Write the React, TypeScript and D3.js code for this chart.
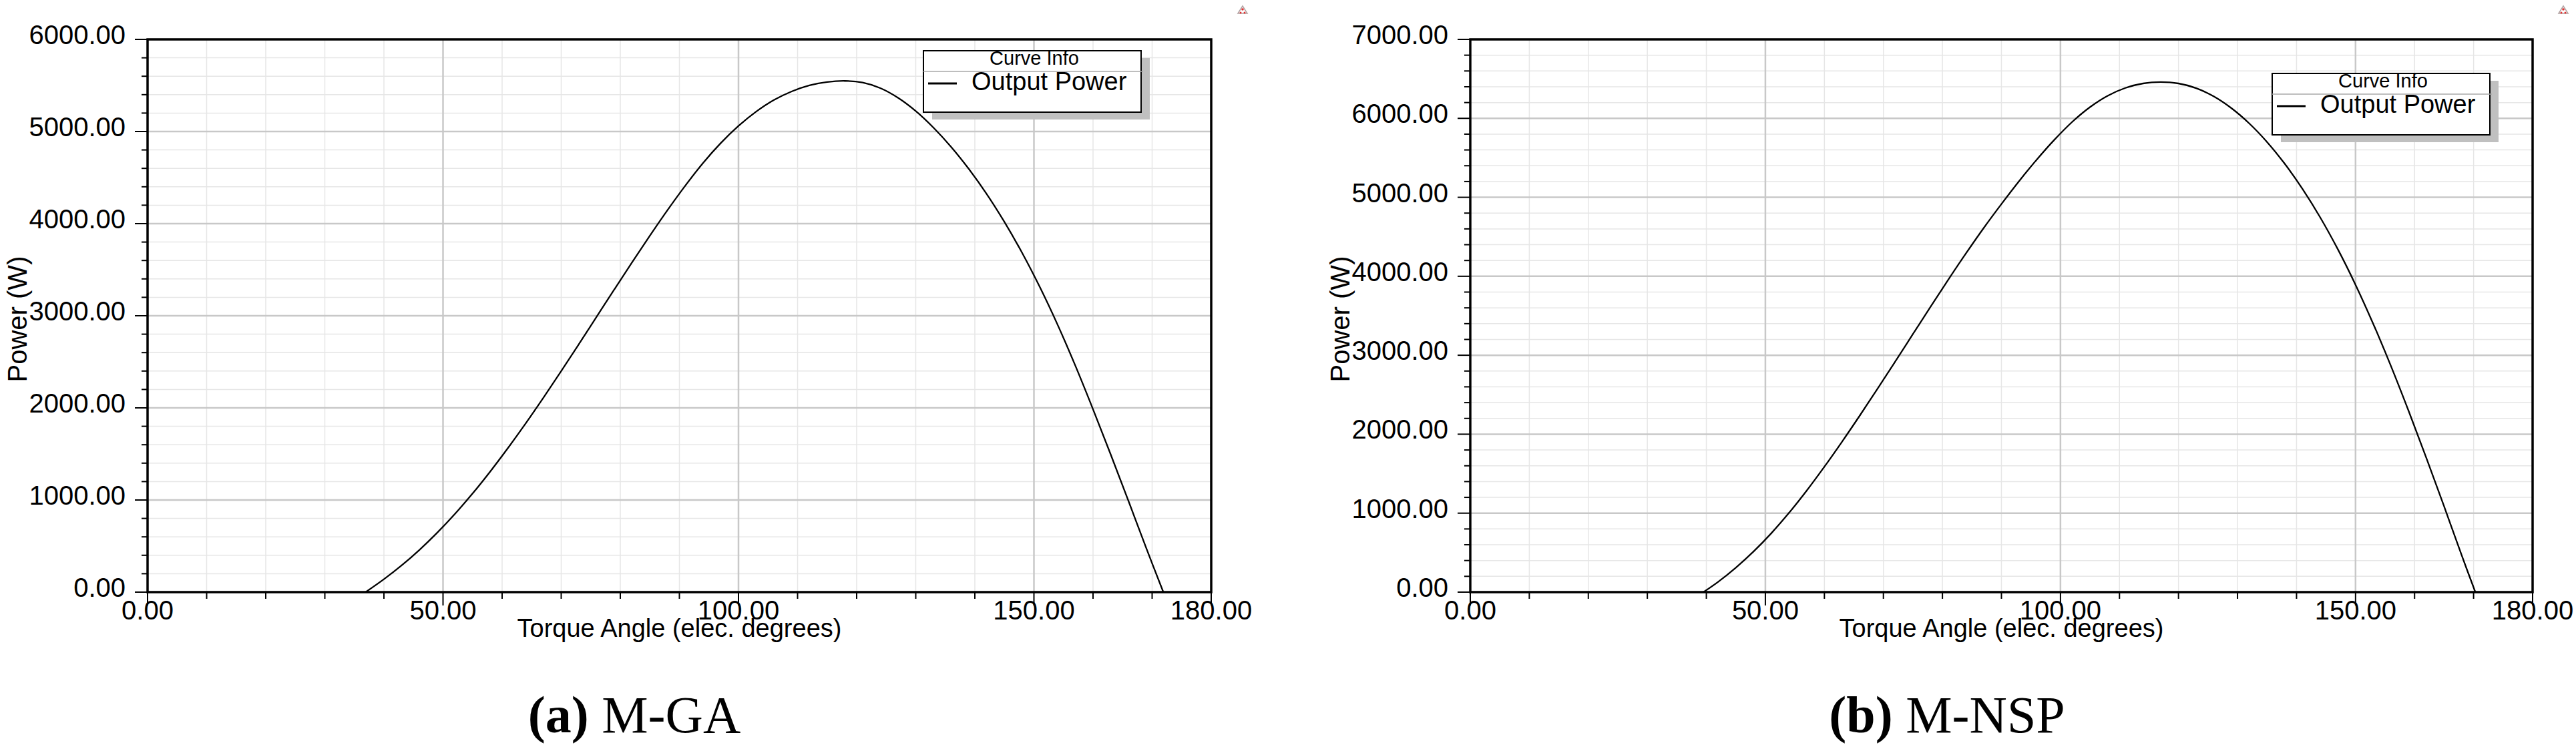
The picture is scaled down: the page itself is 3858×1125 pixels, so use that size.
import React from "react";
import * as d3 from "d3";

// values
const angleGA = [36.9, 40, 43, 46, 49, 52, 55, 58, 61, 64, 67, 70, 73, 76, 79, 82, 85, 88, 91, 94, 97, 100, 103, 106, 109, 112, 115, 118, 121, 124, 127, 130, 133, 136, 139, 142, 145, 148, 151, 154, 157, 160, 163, 166, 169, 171.9];
const powerGA = [0, 140, 290, 458, 644, 848, 1070, 1310, 1565, 1832, 2111, 2399, 2693, 2990, 3287, 3581, 3869, 4148, 4412, 4658, 4874, 5060, 5216, 5342, 5435, 5501, 5537, 5549, 5531, 5471, 5366, 5222, 5042, 4832, 4592, 4322, 4019, 3683, 3311, 2903, 2459, 1985, 1493, 989, 479, 0];

const angleNSP = [39.5, 42, 45, 48, 51, 54, 57, 60, 63, 66, 69, 72, 75, 78, 81, 84, 87, 90, 93, 96, 99, 102, 105, 108, 111, 114, 117, 120, 123, 126, 129, 132, 135, 138, 141, 144, 147, 150, 153, 156, 159, 162, 165, 168, 170.3];
const powerNSP = [0, 130, 310, 514, 745, 1003, 1285, 1588, 1906, 2236, 2575, 2920, 3268, 3616, 3958, 4291, 4612, 4915, 5206, 5479, 5731, 5956, 6142, 6286, 6385, 6442, 6460, 6442, 6382, 6277, 6127, 5935, 5701, 5425, 5107, 4747, 4342, 3892, 3397, 2863, 2293, 1699, 1087, 463, 0];

const xMajorTicks = [0, 50, 100, 150, 180];
const xMinorTicks = [10, 20, 30, 40, 60, 70, 80, 90, 110, 120, 130, 140, 160, 170];
const yMaxGA = 6000;
const yMaxNSP = 7000;

const SANS = "'Liberation Sans', Arial, sans-serif";
const SERIF = "'Liberation Serif', 'Times New Roman', serif";
const fmt = d3.format(".2f");

type PanelProps = {
  x0: number;
  x1: number;
  y0: number;
  y1: number;
  xs: number[];
  ys: number[];
  yMax: number;
  legendX: number;
  legendY: number;
  iconX: number;
  captionX: number;
  tag: string;
  name: string;
};

const Legend = ({ x, y }: { x: number; y: number }) => {
  const w = 326;
  const h = 92;
  return (
    <g transform={`translate(${x},${y})`}>
      <rect x={13} y={11} width={w} height={h} fill="#c0c0c0" />
      <rect x={0} y={0} width={w} height={h} fill="#fff" stroke="#000" strokeWidth={2} />
      <line x1={0} x2={w + 3} y1={31} y2={31} stroke="#a8a8a8" strokeWidth={1.5} />
      <text x={166} y={21} textAnchor="middle" fontFamily={SANS} fontSize={29}>
        Curve Info
      </text>
      <line x1={7} x2={50} y1={49} y2={49} stroke="#000" strokeWidth={3} />
      <text x={72} y={59} fontFamily={SANS} fontSize={38}>
        Output Power
      </text>
    </g>
  );
};

const Panel = (p: PanelProps) => {
  const x = d3.scaleLinear().domain([0, 180]).range([p.x0, p.x1]);
  const y = d3.scaleLinear().domain([0, p.yMax]).range([p.y1, p.y0]);
  const yMajor = d3.range(0, p.yMax + 1, 1000);
  const yMinor = d3.range(0, p.yMax + 1, 200).filter((v) => v % 1000 !== 0);
  const pts = p.xs.map((a, i) => [a, p.ys[i]] as [number, number]);
  const line = d3
    .line<[number, number]>()
    .x((d) => x(d[0]))
    .y((d) => y(d[1]))
    .curve(d3.curveCatmullRom.alpha(0.5));

  const midY = (p.y0 + p.y1) / 2;

  return (
    <g>
      {/* minor grid */}
      {xMinorTicks.map((t) => (
        <line key={"xm" + t} x1={x(t)} x2={x(t)} y1={p.y0} y2={p.y1} stroke="#e6e6e6" strokeWidth={1.5} />
      ))}
      {yMinor.map((t) => (
        <line key={"ym" + t} x1={p.x0} x2={p.x1} y1={y(t)} y2={y(t)} stroke="#e6e6e6" strokeWidth={1.5} />
      ))}
      {/* major grid */}
      {[50, 100, 150].map((t) => (
        <line key={"xM" + t} x1={x(t)} x2={x(t)} y1={p.y0} y2={p.y1} stroke="#c8c8c8" strokeWidth={2.5} />
      ))}
      {yMajor.map((t) => (
        <line key={"yM" + t} x1={p.x0} x2={p.x1} y1={y(t)} y2={y(t)} stroke="#c8c8c8" strokeWidth={2.5} />
      ))}

      <path d={line(pts) || ""} fill="none" stroke="#000" strokeWidth={2.3} />

      {/* frame */}
      <rect x={p.x0} y={p.y0} width={p.x1 - p.x0} height={p.y1 - p.y0} fill="none" stroke="#000" strokeWidth={3.5} />

      {/* y ticks */}
      {yMajor.map((t) => (
        <g key={"yt" + t}>
          <line x1={p.x0 - 19} x2={p.x0} y1={y(t)} y2={y(t)} stroke="#000" strokeWidth={2} />
          <text x={p.x0 - 33} y={y(t) + 7} textAnchor="end" fontFamily={SANS} fontSize={40}>
            {fmt(t)}
          </text>
        </g>
      ))}
      {yMinor.map((t) => (
        <line key={"ytm" + t} x1={p.x0 - 9} x2={p.x0} y1={y(t)} y2={y(t)} stroke="#000" strokeWidth={2} />
      ))}

      {/* x ticks */}
      {xMajorTicks.map((t) => (
        <g key={"xt" + t}>
          <line x1={x(t)} x2={x(t)} y1={p.y1} y2={p.y1 + 20} stroke="#000" strokeWidth={2} />
          <text x={x(t)} y={p.y1 + 41} textAnchor="middle" fontFamily={SANS} fontSize={40}>
            {fmt(t)}
          </text>
        </g>
      ))}
      {xMinorTicks.map((t) => (
        <line key={"xtm" + t} x1={x(t)} x2={x(t)} y1={p.y1} y2={p.y1 + 10} stroke="#000" strokeWidth={2} />
      ))}

      <text x={(p.x0 + p.x1) / 2} y={p.y1 + 67} textAnchor="middle" fontFamily={SANS} fontSize={38}>
        Torque Angle (elec. degrees)
      </text>
      <text
        transform={`translate(${p.x0 - 181},${midY + 5}) rotate(-90)`}
        textAnchor="middle"
        fontFamily={SANS}
        fontSize={40}
      >
        Power (W)
      </text>

      <Legend x={p.legendX} y={p.legendY} />

      {/* little warning marker in the corner */}
      <g transform={`translate(${p.iconX},15)`}>
        <path d="M-7,5 L7,5 L0,-6 Z" fill="none" stroke="#b0a0a0" strokeWidth={1.5} />
        <circle cx={0} cy={-1} r={1.8} fill="#e03030" />
        <circle cx={-3} cy={4} r={1.5} fill="#e03030" />
        <circle cx={3} cy={4} r={1.5} fill="#e03030" />
      </g>

      <text x={p.captionX} y={1097} textAnchor="middle" fontFamily={SERIF} fontSize={78}>
        <tspan fontWeight="bold">(</tspan>
        <tspan fontWeight="bold">{p.tag}</tspan>
        <tspan fontWeight="bold">)</tspan>
        <tspan> {p.name}</tspan>
      </text>
    </g>
  );
};

export default function App() {
  return (
    <svg
      width={3858}
      height={1125}
      style={{ position: "absolute", left: 0, top: 0, background: "#fff" }}
    >
      <rect width={3858} height={1125} fill="#fff" />
      <Panel
        x0={221}
        x1={1814}
        y0={59}
        y1={887}
        xs={angleGA}
        ys={powerGA}
        yMax={yMaxGA}
        legendX={1383}
        legendY={76}
        iconX={1861}
        captionX={950}
        tag="a"
        name="M-GA"
      />
      <Panel
        x0={2202}
        x1={3793}
        y0={59}
        y1={887}
        xs={angleNSP}
        ys={powerNSP}
        yMax={yMaxNSP}
        legendX={3403}
        legendY={110}
        iconX={3839}
        captionX={2916}
        tag="b"
        name="M-NSP"
      />
    </svg>
  );
}
